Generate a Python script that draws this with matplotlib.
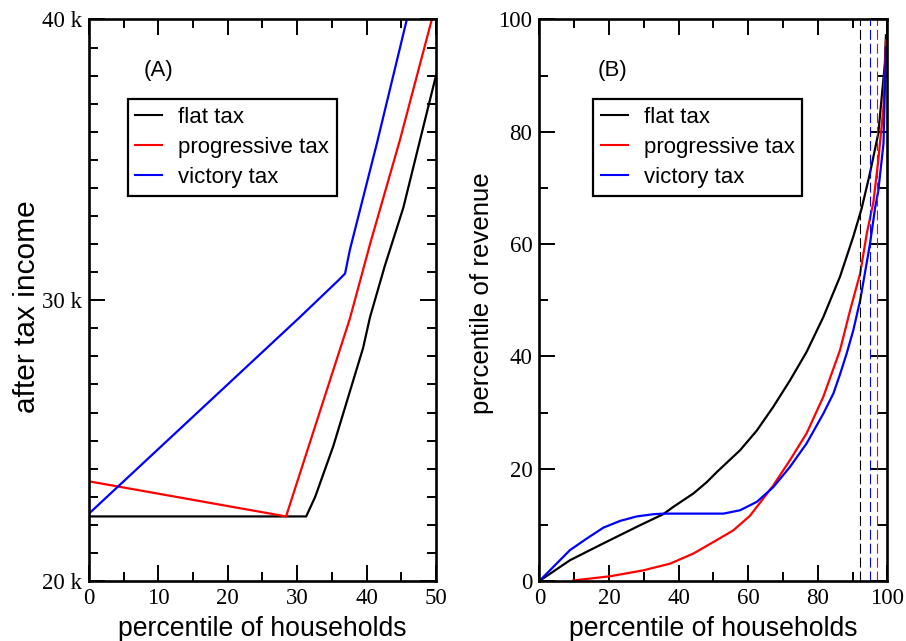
import matplotlib
matplotlib.use("Agg")
import matplotlib.pyplot as plt
from matplotlib.ticker import FixedLocator, MultipleLocator
from matplotlib.lines import Line2D

# ---- Panel A: after-tax income vs. household percentile ----
a_flat_x = [0, 31.3, 32.6, 35.2, 39.5, 40.5, 42.6, 45.3, 50.0]
a_flat_y = [22.3, 22.3, 23.0, 24.8, 28.3, 29.4, 31.2, 33.3, 38.0]

a_prog_x = [0, 28.4, 37.6, 40.5, 44.8, 49.4, 50.0]
a_prog_y = [23.55, 22.3, 29.35, 32.0, 35.7, 40.0, 40.5]

a_vict_x = [0, 30.4, 35.9, 36.9, 37.6, 41.5, 45.8, 46.5]
a_vict_y = [22.4, 29.4, 30.7, 30.95, 31.8, 35.6, 40.0, 40.7]

a_yticks = [20, 30, 40]
a_yticklabels = ["20 k", "30 k", "40 k"]
a_xticks = [0, 10, 20, 30, 40, 50]

# ---- Panel B: cumulative revenue share vs. household percentile ----
b_flat_x = [0, 8.8, 18.4, 28.5, 35.6, 38.5, 44.3, 48.1, 51.0, 57.7, 62.5,
            67.2, 72.0, 76.8, 81.6, 86.4, 90.2, 92.6, 95.0, 97.4, 99.3, 99.6]
b_flat_y = [0, 3.7, 6.7, 9.8, 11.9, 13.2, 15.6, 17.6, 19.4, 23.3, 26.8,
            31.0, 35.7, 40.8, 47.0, 54.2, 61.3, 66.3, 72.6, 79.7, 92.2, 97.2]

b_prog_x = [9.8, 20.3, 29.9, 37.6, 44.3, 51.0, 55.7, 60.5, 62.5, 67.2, 72.0,
            76.8, 81.6, 86.4, 89.3, 92.2, 94.1, 96.0, 97.4, 98.9, 99.6]
b_prog_y = [0.1, 0.84, 1.9, 3.1, 4.9, 7.3, 9.0, 11.6, 13.2, 17.0, 21.5,
            26.3, 32.8, 41.1, 48.2, 54.8, 61.9, 67.5, 74.9, 84.4, 96.3]

b_vict_x = [0, 4.0, 8.8, 13.6, 18.4, 23.2, 28.0, 32.8, 35.7, 52.9, 57.7, 62.5,
            67.2, 72.0, 76.8, 81.6, 84.5, 86.4, 88.3, 90.2, 92.2, 95.0, 96.5,
            97.4, 98.9, 99.6]
b_vict_y = [0, 2.5, 5.5, 7.55, 9.5, 10.7, 11.5, 11.9, 12.0, 12.0, 12.6, 14.1,
            16.7, 20.3, 24.5, 29.8, 33.4, 36.8, 40.5, 44.6, 50.0, 60.0, 66.5,
            69.5, 77.9, 95.1]

b_marks = {"flat": 92.1, "victory": 95.0, "progressive": 96.9}
b_yticks = [0, 20, 40, 60, 80, 100]
b_xticks = [0, 20, 40, 60, 80, 100]

labels = ["flat tax", "progressive tax", "victory tax"]
colors = ["black", "red", "blue"]

SANS = "Liberation Sans"
SERIF = "Liberation Serif"

fig = plt.figure(figsize=(9.06, 6.41), dpi=100)
axA = fig.add_axes([0.0982, 0.0936, 0.3830, 0.8760])
axB = fig.add_axes([0.5953, 0.0936, 0.3841, 0.8760])


def style_axes(ax):
    for s in ax.spines.values():
        s.set_linewidth(1.9)
    ax.tick_params(which="both", direction="in", top=True, right=True,
                   width=1.4, pad=5)
    ax.tick_params(which="major", length=11.5)
    ax.tick_params(which="minor", length=6.5)
    for lab in ax.get_xticklabels() + ax.get_yticklabels():
        lab.set_fontfamily(SERIF)
        lab.set_fontsize(16.5)


def add_legend(ax, x, y):
    handles = [Line2D([], [], color=c, lw=1.5) for c in colors]
    leg = ax.legend(handles, labels, loc="upper left", bbox_to_anchor=(x, y),
                    borderaxespad=0, frameon=True, fancybox=False,
                    edgecolor="black", framealpha=1,
                    prop={"family": SANS, "size": 16},
                    handlelength=1.2, handletextpad=0.72,
                    labelspacing=0.4, borderpad=0.35)
    leg.get_frame().set_linewidth(1.6)


# Panel A
axA.plot(a_flat_x, a_flat_y, color="black", lw=1.6)
axA.plot(a_prog_x, a_prog_y, color="red", lw=1.6)
axA.plot(a_vict_x, a_vict_y, color="blue", lw=1.6)
axA.set_xlim(0, 50)
axA.set_ylim(20, 40)
axA.xaxis.set_major_locator(FixedLocator(a_xticks))
axA.xaxis.set_minor_locator(MultipleLocator(5))
axA.yaxis.set_major_locator(FixedLocator(a_yticks))
axA.set_yticklabels(a_yticklabels)
axA.yaxis.set_minor_locator(MultipleLocator(1))
style_axes(axA)
axA.set_xlabel("percentile of households", family=SANS, fontsize=19.2)
axA.set_ylabel("after tax income", family=SANS, fontsize=21.5)
axA.xaxis.set_label_coords(0.5, -0.0625)
axA.yaxis.set_label_coords(-0.1375, 0.489)
axA.text(0.199, 0.910, "(A)", transform=axA.transAxes, family=SANS,
         fontsize=16, ha="center", va="center")
add_legend(axA, 0.1115, 0.858)

# Panel B
axB.plot(b_flat_x, b_flat_y, color="black", lw=1.6)
axB.plot(b_prog_x, b_prog_y, color="red", lw=1.6)
axB.plot(b_vict_x, b_vict_y, color="blue", lw=1.6)
for key, col in [("flat", "black"), ("victory", "blue"), ("progressive", "red")]:
    axB.axvline(b_marks[key], color=col, lw=0.8, dashes=(9, 3.5))
axB.set_xlim(0, 100)
axB.set_ylim(0, 100)
axB.xaxis.set_major_locator(FixedLocator(b_xticks))
axB.xaxis.set_minor_locator(MultipleLocator(10))
axB.yaxis.set_major_locator(FixedLocator(b_yticks))
axB.yaxis.set_minor_locator(MultipleLocator(10))
style_axes(axB)
axB.set_xlabel("percentile of households", family=SANS, fontsize=19.2)
axB.set_ylabel("percentile of revenue", family=SANS, fontsize=18.6)
axB.xaxis.set_label_coords(0.5, -0.0625)
axB.yaxis.set_label_coords(-0.1316, 0.512)
axB.text(0.21, 0.910, "(B)", transform=axB.transAxes, family=SANS,
         fontsize=16, ha="center", va="center")
add_legend(axB, 0.155, 0.858)

fig.savefig("out.png", dpi=100)
